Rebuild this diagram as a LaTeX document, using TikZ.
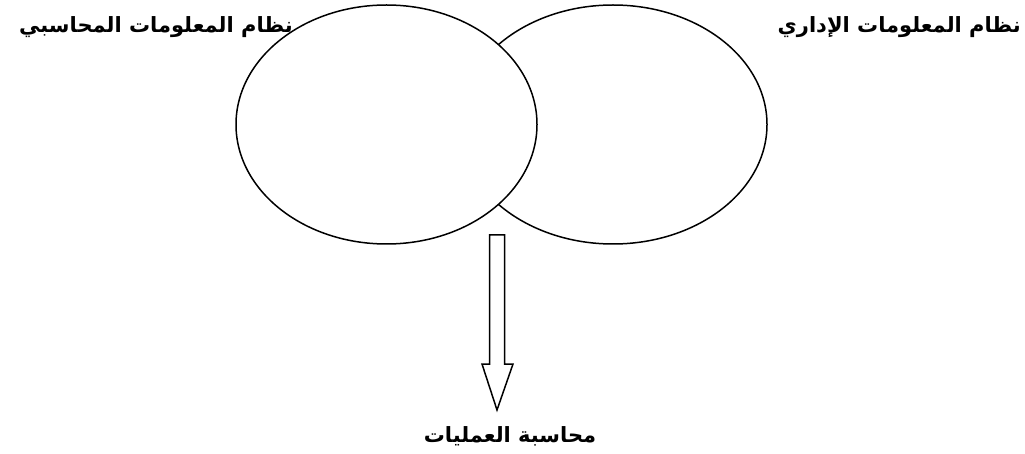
\documentclass[tikz,border=0pt]{standalone}
\usepackage{fontspec}
\usetikzlibrary{shapes.geometric}
\TeXXeTstate=1
\newfontfamily\arabicfont[Script=Arabic]{DejaVu Sans}
\begin{document}
\begin{tikzpicture}[x=1pt,y=-1pt,
  venn/.style={draw=black, line width=1.5pt, ellipse, inner sep=0pt, outer sep=0pt},
  lbl/.style={inner sep=0pt, font=\arabicfont\bfseries\fontsize{21}{24}\selectfont},
  blockarrow/.style={draw=black, line width=1.5pt, fill=white, line join=miter}]
\useasboundingbox (0,0) rectangle (1025,454);
\fill[white] (0,0) rectangle (1025,454);
% right ellipse (behind)
\node[venn, minimum width=308pt, minimum height=239pt] (mis) at (613,124.5) {};
% left ellipse (front, filled white)
\node[venn, fill=white, minimum width=301pt, minimum height=239pt] (ais) at (386.5,124.5) {};
% labels
\node[lbl, anchor=base east] (tais) at (293,33) {\beginR نظام المعلومات المحاسبي\endR};
\node[lbl, anchor=base east] (tmis) at (1021,33) {\beginR نظام المعلومات الإداري\endR};
\node[lbl, anchor=base] (tops) at (510,442) {\beginR محاسبة العمليات\endR};
% block arrow
\coordinate (a1) at (489.5,235);
\coordinate (a2) at (504.5,235);
\coordinate (a3) at (504.5,364);
\coordinate (a4) at (513,364);
\coordinate (tip) at (497,410);
\coordinate (a6) at (482,364);
\coordinate (a7) at (489.5,364);
\draw[blockarrow] (a1) -- (a2) -- (a3) -- (a4) -- (tip) -- (a6) -- (a7) -- cycle;
\end{tikzpicture}
\end{document}
